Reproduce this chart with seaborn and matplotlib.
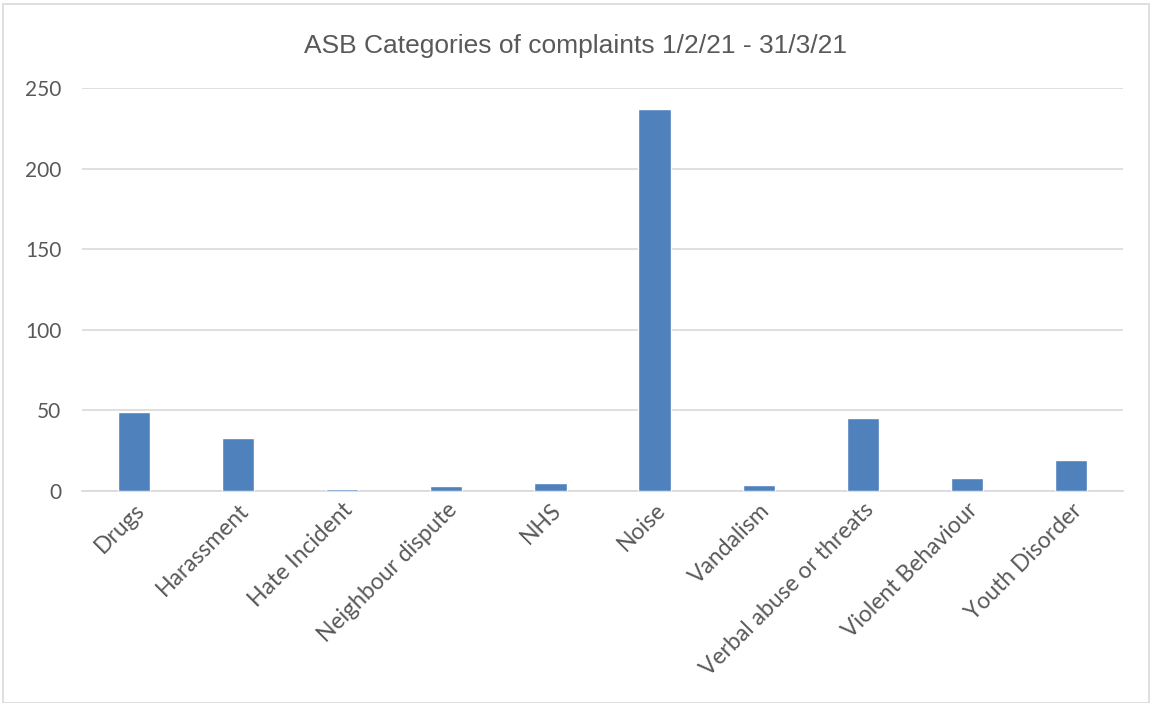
import matplotlib
matplotlib.use("Agg")
import matplotlib.pyplot as plt
import pandas as pd
import seaborn as sns
from matplotlib.patches import Rectangle

categories = [
    "Drugs",
    "Harassment",
    "Hate Incident",
    "Neighbour dispute",
    "NHS",
    "Noise",
    "Vandalism",
    "Verbal abuse or threats",
    "Violent Behaviour",
    "Youth Disorder",
]
complaints = [49, 33, 1, 3, 5, 237, 4, 45, 8, 19]
y_ticks = [0, 50, 100, 150, 200, 250]

df = pd.DataFrame({"category": categories, "complaints": complaints})

sns.set_theme(style="white")
plt.rcParams["font.family"] = ["Lato", "DejaVu Sans"]
text_grey = "#595959"

fig = plt.figure(figsize=(11.52, 7.03), dpi=100)
ax = fig.add_axes([0.0712, 0.3016, 0.9036, 0.5732])

sns.barplot(
    data=df, x="category", y="complaints", color="#4f81bd",
    width=0.31, saturation=1, ax=ax, zorder=3,
)

ax.set_ylim(0, 250)
ax.set_yticks(y_ticks)
ax.set_xlim(-0.5, len(categories) - 0.5)
ax.yaxis.grid(True, color="#d9d9d9", linewidth=1.2, zorder=0)
ax.set_axisbelow(True)
for side in ["top", "right", "left"]:
    ax.spines[side].set_visible(False)
ax.spines["bottom"].set_color("#d9d9d9")
ax.spines["bottom"].set_linewidth(1.2)
ax.set_xlabel("")
ax.set_ylabel("")
ax.tick_params(axis="both", length=0, colors=text_grey)
ax.tick_params(axis="y", pad=15, labelsize=15)
ax.tick_params(axis="x", pad=6, labelsize=16.5)
plt.setp(ax.get_xticklabels(), rotation=45, ha="right", rotation_mode="anchor")

fig.text(0.5, 0.935, "ASB Categories of complaints 1/2/21 - 31/3/21",
         ha="center", va="center", fontsize=19, color=text_grey,
         family=["Liberation Sans", "DejaVu Sans"])

fig.patches.append(Rectangle((0.003, 0.0), 0.994, 0.994, transform=fig.transFigure,
                             fill=False, edgecolor="#d9d9d9", linewidth=1.2))

fig.savefig("out.png", dpi=100)
